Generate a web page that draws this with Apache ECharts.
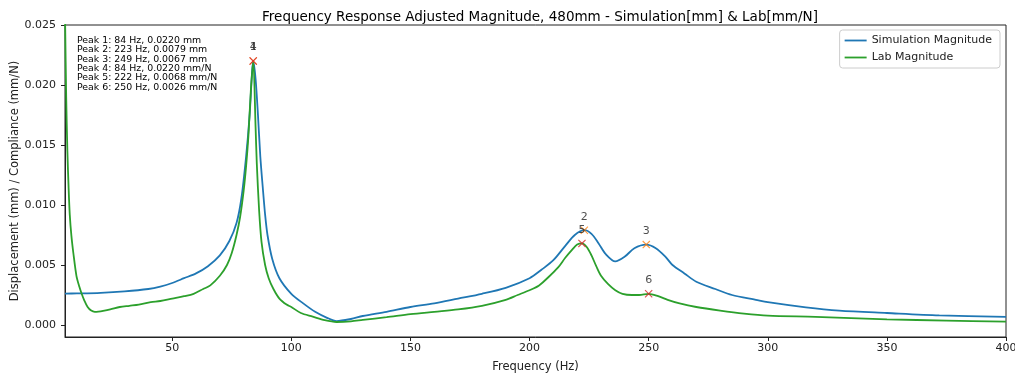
<!DOCTYPE html>
<html>
<head>
<meta charset="utf-8">
<script src="https://cdn.jsdelivr.net/npm/echarts@6/dist/echarts.min.js"></script>
<style>
  html, body { margin: 0; padding: 0; background: #fff; }
  #chart { width: 1015px; height: 376px; }
</style>
</head>
<body>
<div id="chart"></div>
<script>
// frequency (Hz), magnitude pairs
const simCurve = [
  [5, 0.00262], [10, 0.00263], [20, 0.00268], [30, 0.0028], [40, 0.003], [45, 0.0032],
  [50, 0.0035], [55, 0.0039], [60, 0.0043], [65, 0.0049], [70, 0.0058], [74, 0.007],
  [77, 0.0085], [79, 0.0105], [81, 0.014], [82.5, 0.0175], [83.5, 0.021], [84, 0.022],
  [85, 0.0205], [86, 0.0175], [87, 0.014], [88, 0.0115], [89, 0.0092], [90, 0.0075],
  [92, 0.0055], [95, 0.0039], [100, 0.0026], [105, 0.0018], [110, 0.0011], [115, 0.0006],
  [119, 0.00033], [125, 0.0005], [130, 0.00075], [140, 0.0011], [150, 0.0015], [160, 0.0018],
  [170, 0.0022], [180, 0.0026], [190, 0.0031], [200, 0.0039], [205, 0.0046], [210, 0.0054],
  [215, 0.0066], [219, 0.0075], [223, 0.0079], [226, 0.0076], [229, 0.0068], [232, 0.0059],
  [236, 0.0053], [240, 0.0057], [244, 0.0064], [249, 0.0067], [253, 0.0064], [257, 0.0057],
  [260, 0.005], [265, 0.0043], [270, 0.0036], [278, 0.003], [285, 0.0025], [295, 0.0021],
  [300, 0.0019], [316, 0.00147], [330, 0.0012], [350, 0.001], [372, 0.0008], [400, 0.00067]
]
const labCurve = [
  [5, 0.026], [5.5, 0.019], [6, 0.0145], [6.5, 0.0115], [7, 0.0092], [7.7, 0.0074],
  [8.5, 0.006], [9.8, 0.0041], [11, 0.0032], [12, 0.0026], [13, 0.0021], [14.5, 0.0015],
  [16, 0.0012], [17.5, 0.0011], [19, 0.00112], [21, 0.00118], [24, 0.0013], [28, 0.0015],
  [32, 0.0016], [36, 0.0017], [41, 0.0019], [45, 0.002], [50, 0.0022], [55, 0.0024],
  [59, 0.0026], [63, 0.003], [66, 0.0033], [70, 0.0041], [73, 0.005], [75, 0.006],
  [77, 0.0075], [78.5, 0.009], [80, 0.0112], [81, 0.0132], [82, 0.0158], [83, 0.0195],
  [84, 0.022], [85, 0.0165], [85.5, 0.0135], [86.5, 0.0095], [87.5, 0.0069], [89, 0.005],
  [90.5, 0.0039], [92.5, 0.003], [95, 0.0022], [98, 0.0017], [100, 0.0015], [104, 0.001],
  [109, 0.0007], [114, 0.0004], [119, 0.00025], [125, 0.0003], [130, 0.00042], [140, 0.00065],
  [150, 0.0009], [160, 0.0011], [170, 0.0013], [180, 0.0016], [190, 0.0021], [195, 0.0025],
  [200, 0.0029], [204, 0.0033], [208, 0.004], [212, 0.0048], [215, 0.0056], [218, 0.0063],
  [220, 0.0067], [222, 0.0068], [224, 0.0065], [226, 0.0058], [228, 0.0049], [230, 0.0041],
  [233, 0.0034], [236, 0.0029], [239, 0.0026], [243, 0.0025], [246, 0.0025], [250, 0.0026],
  [254, 0.0024], [258, 0.0021], [263, 0.0018], [270, 0.0015], [280, 0.0012], [290, 0.00095],
  [300, 0.00078], [320, 0.00068], [350, 0.00047], [375, 0.00037], [400, 0.00028]
]

// detected peaks: [freq, value, label]
const simPeaks = [[84, 0.0220, '1'], [223, 0.0079, '2'], [249, 0.0067, '3']]
const labPeaks = [[84, 0.0220, '4'], [222, 0.0068, '5'], [250, 0.0026, '6']]
const peakNotes = [
  'Peak 1: 84 Hz, 0.0220 mm',
  'Peak 2: 223 Hz, 0.0079 mm',
  'Peak 3: 249 Hz, 0.0067 mm',
  'Peak 4: 84 Hz, 0.0220 mm/N',
  'Peak 5: 222 Hz, 0.0068 mm/N',
  'Peak 6: 250 Hz, 0.0026 mm/N'
]

const xTicks = [50, 100, 150, 200, 250, 300, 350, 400]
const yTicks = [0, 0.005, 0.01, 0.015, 0.02, 0.025]

const FONT = 'DejaVu Sans'
const X_MARK = 'path://M0,1L1,0L5,4L9,0L10,1L6,5L10,9L9,10L5,6L1,10L0,9L4,5Z'

const peakSeries = (data, color) => ({
  type: 'scatter',
  data: data,
  symbol: X_MARK,
  symbolSize: 8,
  itemStyle: { color: color },
  label: {
    show: true,
    position: 'top',
    distance: 4,
    formatter: p => p.value[2],
    color: '#222',
    fontFamily: FONT,
    fontSize: 11
  },
  z: 5
})

const myChart = echarts.init(document.getElementById('chart'))
myChart.setOption({
  animation: false,
  textStyle: { fontFamily: FONT },
  title: {
    text: 'Frequency Response Adjusted Magnitude, 480mm - Simulation[mm] & Lab[mm/N]',
    left: 535,
    top: 5,
    textAlign: 'center',
    textStyle: { fontFamily: FONT, fontSize: 13.5, fontWeight: 'normal', color: '#000' }
  },
  grid: {
    left: 65,
    right: 9,
    top: 25,
    bottom: 39,
    outerBoundsMode: 'none',
    containLabel: false,
    show: true,
    borderColor: '#222',
    borderWidth: 1
  },
  legend: {
    data: ['Simulation Magnitude', 'Lab Magnitude'],
    orient: 'vertical',
    right: 15,
    top: 30,
    icon: 'path://M0,0H22V1.8H0Z',
    itemWidth: 22,
    itemHeight: 2,
    itemGap: 6,
    padding: [5, 8, 5, 5],
    borderColor: '#ccc',
    borderWidth: 1,
    borderRadius: 3,
    textStyle: { fontFamily: FONT, fontSize: 11, color: '#222' }
  },
  graphic: [{
    type: 'text',
    left: 77,
    top: 36,
    style: {
      text: peakNotes.join('\n'),
      font: '9.4px "DejaVu Sans"',
      lineHeight: 9.3,
      fill: '#000'
    }
  }],
  xAxis: {
    type: 'value',
    min: 5,
    max: 400,
    name: 'Frequency (Hz)',
    nameLocation: 'middle',
    nameGap: 24,
    nameMoveOverlap: false,
    nameTextStyle: { fontFamily: FONT, fontSize: 11.5, color: '#222' },
    axisLine: { onZero: false, lineStyle: { color: '#222' } },
    axisTick: { customValues: xTicks, length: 4, lineStyle: { color: '#222' } },
    axisLabel: { customValues: xTicks, margin: 6, fontFamily: FONT, fontSize: 11, color: '#222' },
    splitLine: { show: false }
  },
  yAxis: {
    type: 'value',
    min: -0.001,
    max: 0.025,
    name: 'Displacement (mm) / Compliance (mm/N)',
    nameLocation: 'middle',
    nameGap: 44,
    nameMoveOverlap: false,
    nameTextStyle: { fontFamily: FONT, fontSize: 11.5, color: '#222' },
    axisLine: { show: true, onZero: false, lineStyle: { color: '#222' } },
    axisTick: { show: true, customValues: yTicks, length: 4, lineStyle: { color: '#222' } },
    axisLabel: {
      customValues: yTicks,
      margin: 9,
      fontFamily: FONT,
      fontSize: 11,
      color: '#222',
      formatter: v => v.toFixed(3)
    },
    splitLine: { show: false }
  },
  series: [
    {
      name: 'Simulation Magnitude',
      type: 'line',
      data: simCurve,
      showSymbol: false,
      smooth: 0.3,
      lineStyle: { color: '#1f77b4', width: 1.8 },
      itemStyle: { color: '#1f77b4' }
    },
    {
      name: 'Lab Magnitude',
      type: 'line',
      data: labCurve,
      showSymbol: false,
      smooth: 0.3,
      lineStyle: { color: '#2ca02c', width: 1.8 },
      itemStyle: { color: '#2ca02c' }
    },
    peakSeries(simPeaks, '#ff7f0e'),
    peakSeries(labPeaks, '#d62728')
  ]
})
</script>
</body>
</html>
